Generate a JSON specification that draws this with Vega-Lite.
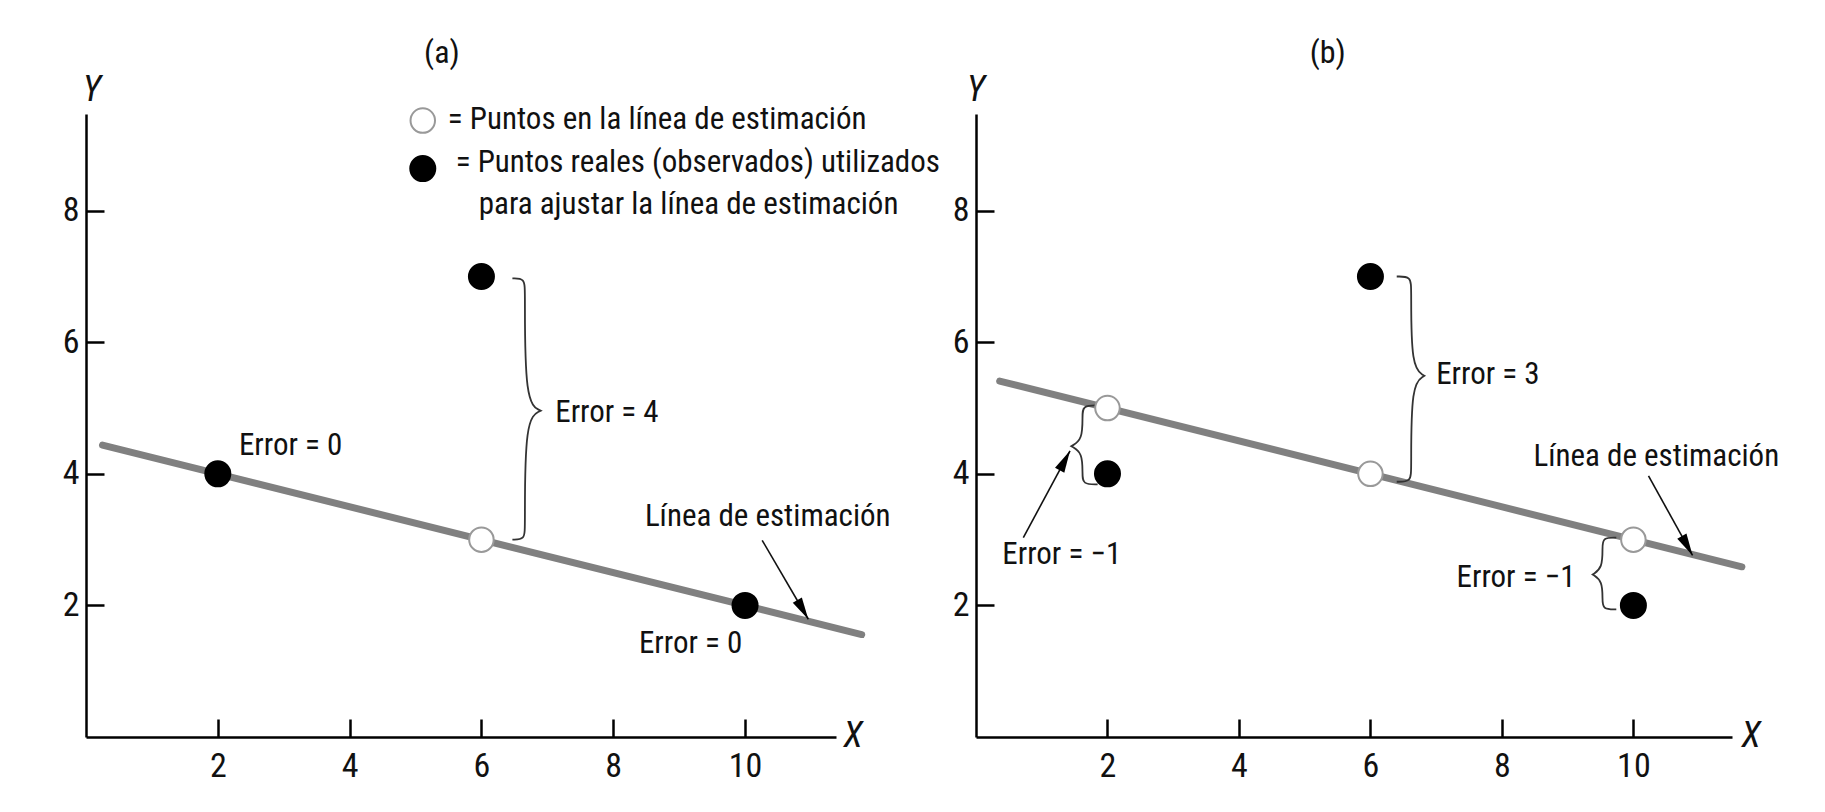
{
  "$schema": "https://vega.github.io/schema/vega-lite/v6.json",
  "background": "white",
  "padding": {"left": 62, "top": 36, "right": 20, "bottom": 40},
  "spacing": 140,
  "bounds": "flush",
  "config": {
    "view": {"stroke": null},
    "font": "Roboto Condensed, Roboto, sans-serif",
    "axis": {
      "grid": false,
      "domainColor": "#000",
      "domainWidth": 2.5,
      "tickColor": "#000",
      "tickWidth": 2.5,
      "tickSize": -18,
      "labelFont": "Roboto Condensed, Roboto, sans-serif",
      "labelFontSize": 34,
      "labelColor": "#111"
    },
    "axisX": {"labelPadding": 30},
    "axisY": {"labelPadding": 25}
  },
  "datasets": {
    "lineA": [{"x": 0.25, "y": 4.4375}, {"x": 11.77, "y": 1.5575}],
    "lineB": [{"x": 0.36, "y": 5.41}, {"x": 11.65, "y": 2.5875}],
    "obs": [{"x": 2, "y": 4}, {"x": 6, "y": 7}, {"x": 10, "y": 2}],
    "estA": [{"x": 6, "y": 3}],
    "estB": [{"x": 2, "y": 5}, {"x": 6, "y": 4}, {"x": 10, "y": 3}],
    "braceA": [
      {"id": "a1", "o": 1, "x": 6.47, "y": 6.97},
      {"id": "a1", "o": 2, "x": 6.66, "y": 6.97},
      {"id": "a1", "o": 3, "x": 6.66, "y": 6.77},
      {"id": "a1", "o": 4, "x": 6.66, "y": 5.08},
      {"id": "a1", "o": 5, "x": 6.9, "y": 4.96},
      {"id": "a1", "o": 6, "x": 6.9, "y": 4.96},
      {"id": "a1", "o": 7, "x": 6.9, "y": 4.96},
      {"id": "a1", "o": 8, "x": 6.66, "y": 4.84},
      {"id": "a1", "o": 9, "x": 6.66, "y": 3.2},
      {"id": "a1", "o": 10, "x": 6.66, "y": 3.0},
      {"id": "a1", "o": 11, "x": 6.47, "y": 3.0}
    ],
    "braceB": [
      {"id": "b1", "o": 1, "x": 6.4, "y": 7.0},
      {"id": "b1", "o": 2, "x": 6.62, "y": 7.0},
      {"id": "b1", "o": 3, "x": 6.62, "y": 6.8},
      {"id": "b1", "o": 4, "x": 6.62, "y": 5.61},
      {"id": "b1", "o": 5, "x": 6.82, "y": 5.49},
      {"id": "b1", "o": 6, "x": 6.82, "y": 5.49},
      {"id": "b1", "o": 7, "x": 6.82, "y": 5.49},
      {"id": "b1", "o": 8, "x": 6.62, "y": 5.37},
      {"id": "b1", "o": 9, "x": 6.62, "y": 4.08},
      {"id": "b1", "o": 10, "x": 6.62, "y": 3.88},
      {"id": "b1", "o": 11, "x": 6.4, "y": 3.88},
      {"id": "b2", "o": 1, "x": 1.85, "y": 5.04},
      {"id": "b2", "o": 2, "x": 1.62, "y": 5.04},
      {"id": "b2", "o": 3, "x": 1.62, "y": 4.88},
      {"id": "b2", "o": 4, "x": 1.62, "y": 4.52},
      {"id": "b2", "o": 5, "x": 1.45, "y": 4.42},
      {"id": "b2", "o": 6, "x": 1.45, "y": 4.42},
      {"id": "b2", "o": 7, "x": 1.45, "y": 4.42},
      {"id": "b2", "o": 8, "x": 1.62, "y": 4.32},
      {"id": "b2", "o": 9, "x": 1.62, "y": 4.0},
      {"id": "b2", "o": 10, "x": 1.62, "y": 3.84},
      {"id": "b2", "o": 11, "x": 1.85, "y": 3.84},
      {"id": "b3", "o": 1, "x": 9.74, "y": 3.03},
      {"id": "b3", "o": 2, "x": 9.53, "y": 3.03},
      {"id": "b3", "o": 3, "x": 9.53, "y": 2.88},
      {"id": "b3", "o": 4, "x": 9.53, "y": 2.57},
      {"id": "b3", "o": 5, "x": 9.38, "y": 2.47},
      {"id": "b3", "o": 6, "x": 9.38, "y": 2.47},
      {"id": "b3", "o": 7, "x": 9.38, "y": 2.47},
      {"id": "b3", "o": 8, "x": 9.53, "y": 2.37},
      {"id": "b3", "o": 9, "x": 9.53, "y": 2.09},
      {"id": "b3", "o": 10, "x": 9.53, "y": 1.94},
      {"id": "b3", "o": 11, "x": 9.74, "y": 1.94}
    ],
    "arrowA": [{"x": 10.26, "y": 2.99, "x2": 10.96, "y2": 1.79}],
    "headA": [{"x": 10.96, "y": 1.79}],
    "arrowB1": [{"x": 10.23, "y": 3.97, "x2": 10.9, "y2": 2.76}],
    "headB1": [{"x": 10.9, "y": 2.76}],
    "arrowB2": [{"x": 0.72, "y": 3.03, "x2": 1.43, "y2": 4.35}],
    "headB2": [{"x": 1.43, "y": 4.35}],
    "textA": [
      {"x": 2.32, "y": 4.43, "label": "Error = 0"},
      {"x": 8.39, "y": 1.42, "label": "Error = 0"},
      {"x": 7.12, "y": 4.93, "label": "Error = 4"},
      {"x": 8.48, "y": 3.34, "label": "Línea de estimación"},
      {"x": 5.49, "y": 9.38, "label": "= Puntos en la línea de estimación"},
      {"x": 5.61, "y": 8.72, "label": "= Puntos reales (observados) utilizados"},
      {"x": 5.96, "y": 8.09, "label": "para ajustar la línea de estimación"}
    ],
    "textB": [
      {"x": 7.0, "y": 5.51, "label": "Error = 3"},
      {"x": 0.4, "y": 2.76, "label": "Error = −1"},
      {"x": 7.31, "y": 2.41, "label": "Error = −1"},
      {"x": 8.48, "y": 4.25, "label": "Línea de estimación"}
    ],
    "legendOpen": [{"x": 5.11, "y": 9.37}],
    "legendFilled": [{"x": 5.11, "y": 8.64}],
    "titleA": [{"x": 5.4, "y": 10.4, "label": "(a)"}],
    "titleB": [{"x": 5.35, "y": 10.4, "label": "(b)"}],
    "axisLabA": [{"x": 0.09, "y": 9.83, "label": "Y"}, {"x": 11.64, "y": 0.02, "label": "X"}],
    "axisLabB": [{"x": 0.0, "y": 9.83, "label": "Y"}, {"x": 11.79, "y": 0.02, "label": "X"}]
  },
  "hconcat": [
    {
      "width": 750,
      "height": 623,
      "encoding": {
        "x": {"field": "x", "type": "quantitative", "scale": {"domain": [0, 11.38], "nice": false, "zero": false}, "axis": {"values": [2, 4, 6, 8, 10], "title": null}},
        "y": {"field": "y", "type": "quantitative", "scale": {"domain": [0, 9.47], "nice": false, "zero": false}, "axis": {"values": [2, 4, 6, 8], "title": null}}
      },
      "layer": [
        {"data": {"name": "lineA"}, "mark": {"type": "line", "color": "#808080", "strokeWidth": 7, "strokeCap": "round"}},
        {"data": {"name": "braceA"}, "mark": {"type": "line", "interpolate": "basis", "color": "#333", "strokeWidth": 1.8}, "encoding": {"order": {"field": "o", "type": "quantitative"}, "detail": {"field": "id"}}},
        {"data": {"name": "arrowA"}, "mark": {"type": "rule", "color": "#111", "strokeWidth": 1.6}, "encoding": {"x2": {"field": "x2"}, "y2": {"field": "y2"}}},
        {"data": {"name": "headA"}, "mark": {"type": "point", "shape": "M0,0L0.5,2.1L-0.5,2.1Z", "filled": true, "color": "#000", "opacity": 1, "size": 441, "angle": 150}},
        {"data": {"name": "estA"}, "mark": {"type": "point", "shape": "circle", "filled": true, "fill": "#fff", "stroke": "#999", "strokeWidth": 2, "size": 600, "opacity": 1}},
        {"data": {"name": "obs"}, "mark": {"type": "point", "shape": "circle", "filled": true, "color": "#000", "size": 730, "opacity": 1}},
        {"data": {"name": "legendOpen"}, "mark": {"type": "point", "shape": "circle", "filled": true, "fill": "#fff", "stroke": "#999", "strokeWidth": 2, "size": 600, "opacity": 1}},
        {"data": {"name": "legendFilled"}, "mark": {"type": "point", "shape": "circle", "filled": true, "color": "#000", "size": 730, "opacity": 1}},
        {"data": {"name": "textA"}, "mark": {"type": "text", "align": "left", "baseline": "middle", "fontSize": 31, "color": "#111"}, "encoding": {"text": {"field": "label"}}},
        {"data": {"name": "titleA"}, "mark": {"type": "text", "align": "center", "baseline": "middle", "fontSize": 32, "color": "#111"}, "encoding": {"text": {"field": "label"}}},
        {"data": {"name": "axisLabA"}, "mark": {"type": "text", "align": "center", "baseline": "middle", "fontSize": 36, "fontStyle": "italic", "color": "#111"}, "encoding": {"text": {"field": "label"}}}
      ]
    },
    {
      "width": 756,
      "height": 623,
      "encoding": {
        "x": {"field": "x", "type": "quantitative", "scale": {"domain": [0, 11.5], "nice": false, "zero": false}, "axis": {"values": [2, 4, 6, 8, 10], "title": null}},
        "y": {"field": "y", "type": "quantitative", "scale": {"domain": [0, 9.47], "nice": false, "zero": false}, "axis": {"values": [2, 4, 6, 8], "title": null}}
      },
      "layer": [
        {"data": {"name": "lineB"}, "mark": {"type": "line", "color": "#808080", "strokeWidth": 7, "strokeCap": "round"}},
        {"data": {"name": "braceB"}, "mark": {"type": "line", "interpolate": "basis", "color": "#333", "strokeWidth": 1.8}, "encoding": {"order": {"field": "o", "type": "quantitative"}, "detail": {"field": "id"}}},
        {"data": {"name": "arrowB1"}, "mark": {"type": "rule", "color": "#111", "strokeWidth": 1.6}, "encoding": {"x2": {"field": "x2"}, "y2": {"field": "y2"}}},
        {"data": {"name": "headB1"}, "mark": {"type": "point", "shape": "M0,0L0.5,2.1L-0.5,2.1Z", "filled": true, "color": "#000", "opacity": 1, "size": 441, "angle": 151}},
        {"data": {"name": "arrowB2"}, "mark": {"type": "rule", "color": "#111", "strokeWidth": 1.6}, "encoding": {"x2": {"field": "x2"}, "y2": {"field": "y2"}}},
        {"data": {"name": "headB2"}, "mark": {"type": "point", "shape": "M0,0L0.5,2.1L-0.5,2.1Z", "filled": true, "color": "#000", "opacity": 1, "size": 441, "angle": 28}},
        {"data": {"name": "estB"}, "mark": {"type": "point", "shape": "circle", "filled": true, "fill": "#fff", "stroke": "#999", "strokeWidth": 2, "size": 600, "opacity": 1}},
        {"data": {"name": "obs"}, "mark": {"type": "point", "shape": "circle", "filled": true, "color": "#000", "size": 730, "opacity": 1}},
        {"data": {"name": "textB"}, "mark": {"type": "text", "align": "left", "baseline": "middle", "fontSize": 31, "color": "#111"}, "encoding": {"text": {"field": "label"}}},
        {"data": {"name": "titleB"}, "mark": {"type": "text", "align": "center", "baseline": "middle", "fontSize": 32, "color": "#111"}, "encoding": {"text": {"field": "label"}}},
        {"data": {"name": "axisLabB"}, "mark": {"type": "text", "align": "center", "baseline": "middle", "fontSize": 36, "fontStyle": "italic", "color": "#111"}, "encoding": {"text": {"field": "label"}}}
      ]
    }
  ]
}
